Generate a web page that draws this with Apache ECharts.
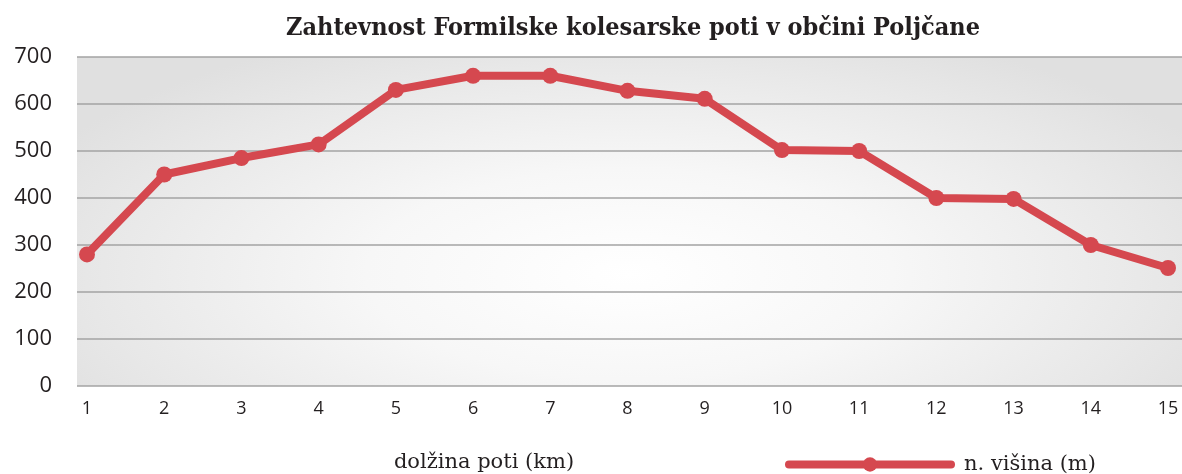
<!DOCTYPE html>
<html>
<head>
<meta charset="utf-8">
<script src="https://cdn.jsdelivr.net/npm/echarts@6/dist/echarts.min.js"></script>
<style>
  html, body { margin: 0; padding: 0; background: #fff; }
  #chart { width: 1182px; height: 474px; }
</style>
</head>
<body>
<div id="chart"></div>
<script>
const kmLabels = ['1', '2', '3', '4', '5', '6', '7', '8', '9', '10', '11', '12', '13', '14', '15']
const heights = [280, 450, 485, 514, 630, 660, 660, 628, 611, 502, 500, 400, 398, 300, 251]
const yMin = 0
const yMax = 700
const yStep = 100

const red = '#d5484f'

// plot area in px
const plotLeft = 77
const plotTop = 57
const plotBottom = 88
const plotW = 1182 - plotLeft
const plotH = 474 - plotTop - plotBottom
const stretch = 2.5 // horizontal stretch of the radial background

const chart = echarts.init(document.getElementById('chart'))

chart.setOption({
  animation: false,
  title: [{
    text: 'Zahtevnost Formilske kolesarske poti v občini Poljčane',
    left: 628,
    top: 11,
    textAlign: 'center',
    textStyle: {
      fontFamily: 'DejaVu Serif Condensed, DejaVu Serif',
      fontWeight: 'bold',
      fontSize: 25,
      color: '#231f20'
    }
  }, {
    text: 'dolžina poti (km)',
    left: 479,
    top: 447,
    textAlign: 'center',
    textStyle: {
      fontFamily: 'DejaVu Serif',
      fontWeight: 'normal',
      fontSize: 21,
      color: '#231f20'
    }
  }],
  graphic: [{
    type: 'rect',
    z: -10,
    silent: true,
    x: plotLeft,
    y: plotTop,
    scaleX: stretch,
    shape: { x: 0, y: 0, width: plotW / stretch, height: plotH },
    style: {
      fill: {
        type: 'radial',
        x: 0.5,
        y: 0.66,
        r: 0.8,
        colorStops: [
          { offset: 0, color: '#ffffff' },
          { offset: 0.4, color: '#f7f7f7' },
          { offset: 0.8, color: '#e8e8e8' },
          { offset: 1, color: '#e0e0e0' }
        ]
      }
    }
  }],
  legend: {
    data: ['n. višina (m)'],
    left: 780,
    top: 449,
    itemWidth: 162,
    itemHeight: 18,
    itemGap: 0,
    lineStyle: { width: 8, cap: 'round' },
    itemStyle: { borderWidth: 0 },
    textStyle: {
      fontFamily: 'DejaVu Serif',
      fontSize: 21,
      color: '#231f20',
      padding: [0, 0, 0, 8]
    }
  },
  grid: [{
    // background grid with the split lines, full width
    left: plotLeft,
    right: 0,
    top: plotTop,
    bottom: plotBottom
  }, {
    // data grid
    left: 87,
    right: 14,
    top: plotTop,
    bottom: plotBottom
  }],
  xAxis: [{
    gridIndex: 0,
    type: 'category',
    data: kmLabels,
    show: false
  }, {
    gridIndex: 1,
    type: 'category',
    data: kmLabels,
    boundaryGap: false,
    axisLine: { show: false },
    axisTick: { show: false },
    axisLabel: {
      margin: 14,
      fontFamily: 'Open Sans',
      fontSize: 18,
      color: '#231f20'
    }
  }],
  yAxis: [{
    gridIndex: 0,
    type: 'value',
    min: yMin,
    max: yMax,
    interval: yStep,
    axisLine: { show: false },
    axisTick: { show: false },
    axisLabel: {
      margin: 25,
      fontFamily: 'Open Sans',
      fontSize: 22,
      color: '#231f20'
    },
    splitLine: {
      lineStyle: { color: '#a3a3a3', width: 1.5 }
    }
  }, {
    gridIndex: 1,
    type: 'value',
    min: yMin,
    max: yMax,
    interval: yStep,
    show: false,
    splitLine: { show: false }
  }],
  series: [{
    name: 'n. višina (m)',
    type: 'line',
    xAxisIndex: 1,
    yAxisIndex: 1,
    data: heights,
    symbol: 'circle',
    symbolSize: 16,
    lineStyle: { color: red, width: 8 },
    itemStyle: { color: red }
  }]
})
</script>
</body>
</html>
